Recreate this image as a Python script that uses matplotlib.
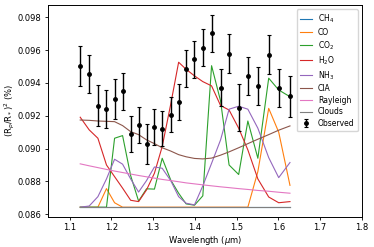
import numpy as np
import matplotlib
matplotlib.use("Agg")
import matplotlib.pyplot as plt

wavelength = [1.125, 1.1465, 1.1674, 1.188, 1.2074, 1.2266, 1.246, 1.265, 1.284,
              1.303, 1.3216, 1.342, 1.361, 1.379, 1.399, 1.419, 1.44, 1.4616,
              1.482, 1.505, 1.527, 1.551, 1.577, 1.601, 1.628]

observed = [0.09502, 0.09453, 0.09262, 0.09242, 0.09301, 0.09349, 0.09091, 0.09146,
            0.09028, 0.09132, 0.09120, 0.09205, 0.09282, 0.09487, 0.09544, 0.09615,
            0.09703, 0.09370, 0.09578, 0.09250, 0.09441, 0.09380, 0.09572, 0.09368,
            0.09319]
observed_err = [0.00122, 0.00116, 0.00124, 0.00114, 0.00120, 0.00112, 0.00110, 0.00110,
                0.00120, 0.00109, 0.00107, 0.00107, 0.00110, 0.00112, 0.00111, 0.00113,
                0.00113, 0.00112, 0.00118, 0.00142, 0.00117, 0.00114, 0.00120, 0.00117,
                0.00124]

ch4 = [0.08642] * 25
co = [0.08643, 0.08643, 0.08643, 0.08756, 0.08670, 0.08643, 0.08643, 0.08643, 0.08643,
      0.08643, 0.08643, 0.08643, 0.08643, 0.08643, 0.08643, 0.08643, 0.08643, 0.08643,
      0.08643, 0.08643, 0.08643, 0.08860, 0.09245, 0.09100, 0.08776]
co2 = [0.08643, 0.08643, 0.08643, 0.08643, 0.09063, 0.09079, 0.08835, 0.08680, 0.08755,
       0.08753, 0.08941, 0.08809, 0.08728, 0.08663, 0.08655, 0.08712, 0.09505, 0.09290,
       0.08900, 0.08842, 0.09168, 0.08941, 0.09429, 0.09357, 0.09316]
h2o = [0.09191, 0.09114, 0.09063, 0.08900, 0.08829, 0.08759, 0.08685, 0.08677, 0.08748,
       0.08850, 0.09012, 0.09270, 0.09526, 0.09483, 0.09443, 0.09408, 0.09382, 0.09262,
       0.09235, 0.09124, 0.08992, 0.08815, 0.08705, 0.08670, 0.08677]
nh3 = [0.08643, 0.08650, 0.08707, 0.08815, 0.08935, 0.08905, 0.08815, 0.08735, 0.08805,
       0.08888, 0.08880, 0.08805, 0.08707, 0.08667, 0.08657, 0.08773, 0.08910, 0.09053,
       0.09240, 0.09258, 0.09240, 0.09124, 0.08945, 0.08823, 0.08915]
cia = [0.09174, 0.09172, 0.09168, 0.09166, 0.09164, 0.09140, 0.09103, 0.09085, 0.09053,
       0.09030, 0.09005, 0.08985, 0.08963, 0.08950, 0.08940, 0.08937, 0.08942, 0.08960,
       0.08980, 0.09005, 0.09030, 0.09057, 0.09085, 0.09112, 0.09138]
rayleigh = [0.08907, 0.08895, 0.08884, 0.08873, 0.08863, 0.08854, 0.08845, 0.08836,
            0.08828, 0.08820, 0.08812, 0.08805, 0.08798, 0.08791, 0.08785, 0.08779,
            0.08773, 0.08767, 0.08762, 0.08756, 0.08751, 0.08745, 0.08740, 0.08734,
            0.08728]
clouds = [0.08643] * 25

series = [("CH$_4$", ch4), ("CO", co), ("CO$_2$", co2), ("H$_2$O", h2o),
          ("NH$_3$", nh3), ("CIA", cia), ("Rayleigh", rayleigh), ("Clouds", clouds)]

fig = plt.figure(figsize=(3.74, 2.47), dpi=100)
ax = fig.add_axes([0.1275, 0.1227, 0.8396, 0.8559])

for i, (label, vals) in enumerate(series):
    ax.plot(wavelength, vals, color=f"C{i}", lw=0.8, label=label)

ax.errorbar(wavelength, observed, yerr=observed_err, fmt="o", color="black",
            ms=2.5, elinewidth=1.0, capsize=1.3, capthick=0.8, label="Observed")

ax.set_xlim(1.047, 1.8)
ax.set_ylim(0.08585, 0.09873)
ax.set_xticks([1.1, 1.2, 1.3, 1.4, 1.5, 1.6, 1.7, 1.8])
ax.set_yticks([0.086, 0.088, 0.090, 0.092, 0.094, 0.096, 0.098])
ax.tick_params(labelsize=6, length=2.5, width=0.6, pad=2)
for s in ax.spines.values():
    s.set_linewidth(0.7)

ax.set_xlabel("Wavelength ($\\mu$m)", fontsize=6, labelpad=1.5)
ax.set_ylabel("(R$_p$/R$_*$)$^2$ (%)", fontsize=6, labelpad=0.5)

ax.legend(loc="upper right", fontsize=5.5, handlelength=1.5, labelspacing=0.33,
          borderpad=0.45, handletextpad=0.8, framealpha=0.8)

fig.savefig("out.png", dpi=100)
